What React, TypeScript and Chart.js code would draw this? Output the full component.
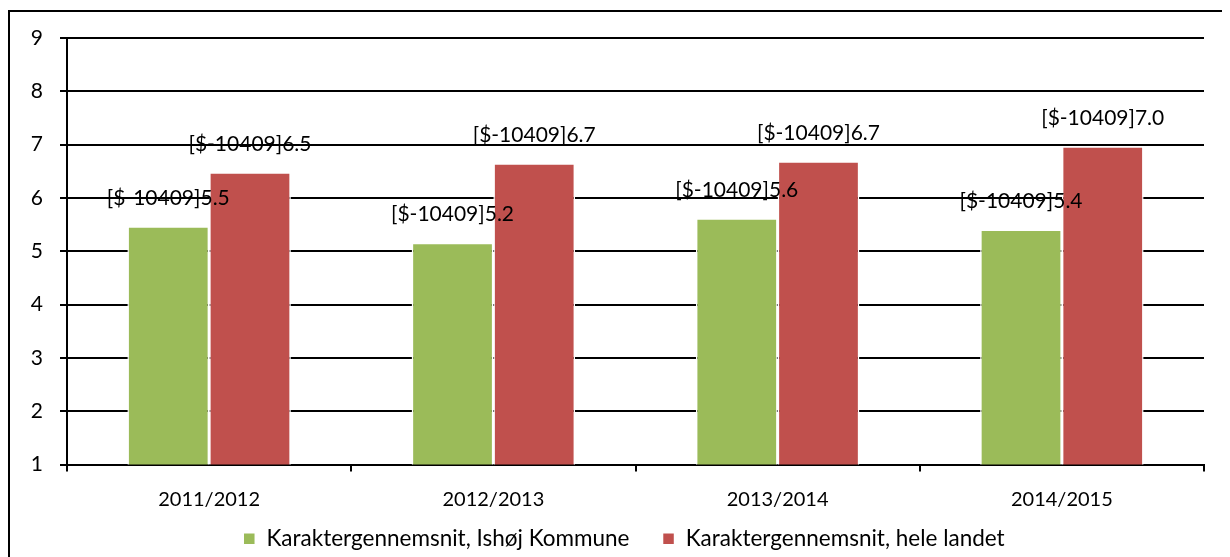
import React, { useEffect, useRef } from "react";
import { Chart, registerables } from "chart.js";

Chart.register(...registerables);

const categories = ["2011/2012", "2012/2013", "2013/2014", "2014/2015"];
const seriesNames = ["Karaktergennemsnit, Ishøj Kommune", "Karaktergennemsnit, hele landet"];
const ishoejValues = [5.47, 5.16, 5.62, 5.41];
const landetValues = [6.48, 6.65, 6.69, 6.97];
const labelPrefix = "[$-10409]";
const yTicks = [1, 2, 3, 4, 5, 6, 7, 8, 9];

const FONT = "Lato, 'Open Sans', sans-serif";

const labelPlugin = {
  id: "barLabels",
  afterDatasetsDraw(chart: any) {
    const ctx = chart.ctx;
    ctx.save();
    ctx.font = `21px ${FONT}`;
    ctx.fillStyle = "#000";
    ctx.textAlign = "center";
    ctx.textBaseline = "middle";
    chart.data.datasets.forEach((ds: any, di: number) => {
      const meta = chart.getDatasetMeta(di);
      meta.data.forEach((bar: any, i: number) => {
        const v = ds.data[i] as number;
        ctx.fillText(labelPrefix + v.toFixed(1), bar.x, bar.y - 28);
      });
    });
    ctx.restore();
  },
};

export default function App() {
  const ref = useRef<HTMLCanvasElement>(null);
  useEffect(() => {
    if (!ref.current) return;
    const chart = new Chart(ref.current, {
      type: "bar",
      data: {
        labels: categories,
        datasets: [
          {
            label: seriesNames[0],
            data: ishoejValues,
            backgroundColor: "#9BBB59",
            borderColor: "#ffffff",
            borderWidth: 1.5,
            categoryPercentage: 0.575,
            barPercentage: 1,
          },
          {
            label: seriesNames[1],
            data: landetValues,
            backgroundColor: "#C0504D",
            borderColor: "#ffffff",
            borderWidth: 1.5,
            categoryPercentage: 0.575,
            barPercentage: 1,
          },
        ],
      },
      options: {
        animation: false,
        responsive: false,
        maintainAspectRatio: false,
        layout: { padding: { left: 0, right: 26, top: 30, bottom: -3 } },
        plugins: {
          legend: {
            position: "bottom",
            fullSize: false,
            labels: {
              color: "#000",
              font: { family: FONT, size: 22.5 },
              boxWidth: 12,
              boxHeight: 12,
              padding: 10,
              generateLabels(chart: any) {
                const items = Chart.defaults.plugins.legend.labels.generateLabels(chart);
                return items.map((it: any) => ({ ...it, text: it.text + "    " }));
              },
            },
          },
          tooltip: { enabled: false },
          title: { display: false },
        },
        scales: {
          x: {
            afterFit(scale: any) {
              scale.height = 53;
            },
            grid: {
              drawOnChartArea: false,
              drawTicks: true,
              tickLength: 7,
              color: "#000",
              lineWidth: 2,
              offset: true,
            },
            border: { color: "#000", width: 2 },
            ticks: { color: "#000", font: { family: FONT, size: 20 }, padding: 16 },
          },
          y: {
            min: 1,
            max: 9,
            afterFit(scale: any) {
              scale.width = 59;
            },
            afterBuildTicks(scale: any) {
              scale.ticks = yTicks.map((v) => ({ value: v }));
            },
            grid: { color: "#000", lineWidth: 2, tickLength: 7, drawTicks: true },
            border: { color: "#000", width: 2 },
            ticks: { color: "#000", font: { family: FONT, size: 21 }, padding: 17, stepSize: 1 },
          },
        },
      },
      plugins: [labelPlugin],
    });
    return () => chart.destroy();
  }, []);

  return (
    <div style={{ position: "relative", width: 1222, height: 549, overflow: "hidden" }}>
      <div
        style={{
          position: "absolute",
          left: 0,
          top: 2,
          width: 1400,
          height: 800,
          border: "2px solid #000",
          boxSizing: "border-box",
        }}
      />
      <canvas
        ref={ref}
        width={1222}
        height={549}
        style={{ position: "absolute", left: 0, top: 0, width: 1222, height: 549 }}
      />
    </div>
  );
}
